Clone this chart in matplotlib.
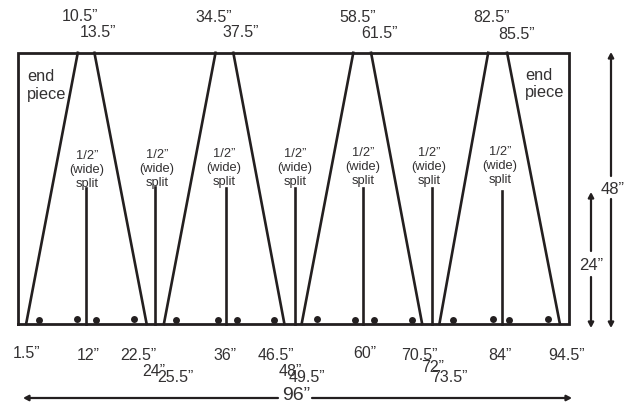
import matplotlib
matplotlib.use("Agg")
import matplotlib.pyplot as plt

plt.rcParams['font.family'] = ['Liberation Sans', 'DejaVu Sans']
INK = '#231f20'
TXT = '#333132'

# Panel size (inches)
panel_w = 96
panel_h = 48

# Slanted cuts: (bottom inch, top inch)
cut_bottom = [1.5, 22.5, 25.5, 46.5, 49.5, 70.5, 73.5, 94.5]
cut_top = [10.5, 13.4, 34.5, 37.6, 58.5, 61.6, 82.0, 85.3]

# Splits
split_x = [11.95, 24.0, 36.3, 48.3, 60.2, 72.2, 84.4]
split_top = [24.1, 24.3, 24.1, 24.1, 24.1, 24.1, 23.5]

# Dots
dot_x = [3.7, 10.3, 13.7, 20.3, 27.7, 34.9, 38.2, 44.6,
         52.1, 58.8, 62.1, 68.7, 75.9, 82.9, 85.7, 92.4]
dot_y = [0.7, 0.9, 0.7, 0.9, 0.7, 0.7, 0.7, 0.7,
         0.9, 0.7, 0.7, 0.7, 0.7, 0.8, 0.7, 0.8]

# Labels
top_labels = ['10.5”', '13.5”', '34.5”', '37.5”', '58.5”', '61.5”', '82.5”', '85.5”']
bottom_labels = ['1.5”', '12”', '22.5”', '24”', '25.5”', '36”', '46.5”', '48”',
                 '49.5”', '60”', '70.5”', '72”', '73.5”', '84”', '94.5”']
top_label_pos = [(80, 17), (98, 33), (214, 18), (241, 33),
                 (358, 18), (379, 34), (491, 18), (517, 35)]
bottom_label_pos = [(27, 354), (88, 356), (138, 356), (154, 371), (175, 378),
                    (225, 356), (276, 356), (290, 372), (307, 378), (365, 354),
                    (419, 356), (433, 368), (449, 377), (500, 356), (567, 356)]
split_label_pos = [(87, 170), (157, 169), (224, 168), (295, 168),
                   (363, 167), (429, 167), (500, 166)]

fig = plt.figure(figsize=(6.30, 4.04), dpi=100)
ax = fig.add_axes([0, 0, 1, 1])

X0, Y0, SX, SY = 17.5, 324.0, 5.74, 5.65
ax.set_xlim((0 - X0) / SX, (630 - X0) / SX)
ax.set_ylim((Y0 - 404) / SY, (Y0 - 0) / SY)
ax.axis('off')


def dx(px):
    return (px - X0) / SX


def dy(py):
    return (Y0 - py) / SY


# Outer panel
ax.plot([0, panel_w, panel_w, 0, 0], [0, 0, panel_h, panel_h, 0],
        color=INK, lw=2.0, solid_joinstyle='miter', solid_capstyle='projecting')

# Cuts
for b, t in zip(cut_bottom, cut_top):
    ax.plot([b, t], [0, panel_h], color=INK, lw=1.9)

# Splits
for x, t in zip(split_x, split_top):
    ax.plot([x, x], [0, t], color=INK, lw=1.9)

# Dots
ax.plot(dot_x, dot_y, 'o', color=INK, ms=5.0, mew=0, ls='none')

# Text
for s, (px, py) in zip(top_labels, top_label_pos):
    ax.text(dx(px), dy(py), s, ha='center', va='center', fontsize=11.5, color=TXT)
for s, (px, py) in zip(bottom_labels, bottom_label_pos):
    ax.text(dx(px), dy(py), s, ha='center', va='center', fontsize=11.5, color=TXT)
for (px, py) in split_label_pos:
    ax.text(dx(px), dy(py), '1/2”\n(wide)\nsplit', ha='center', va='center',
            fontsize=9.3, color=TXT, linespacing=1.2)
ax.text(dx(27), dy(86), 'end\npiece', ha='left', va='center', fontsize=11.8,
        color=TXT, linespacing=1.25)
ax.text(dx(525), dy(84), 'end\npiece', ha='left', va='center', fontsize=11.8,
        color=TXT, linespacing=1.25)


def arrow(p0, p1):
    ax.annotate('', xy=(dx(p1[0]), dy(p1[1])), xytext=(dx(p0[0]), dy(p0[1])),
                arrowprops=dict(arrowstyle='-|>,head_width=0.16,head_length=0.3',
                                color=INK, lw=1.6, shrinkA=0, shrinkB=0))


# 96 inch dimension
arrow((278, 398), (23, 398))
arrow((312, 398), (572, 398))
ax.text(dx(296), dy(396), '96”', ha='center', va='center', fontsize=14, color=TXT)

# 48 inch dimension
arrow((611, 176), (611, 52))
arrow((611, 199), (611, 328))
ax.text(dx(613), dy(190), '48”', ha='center', va='center', fontsize=12, color=TXT)

# 24 inch dimension
arrow((591, 251), (591, 192))
arrow((591, 277), (591, 328))
ax.text(dx(591), dy(266), '24”', ha='center', va='center', fontsize=12, color=TXT)

fig.savefig('out.png', dpi=100, facecolor='white')
